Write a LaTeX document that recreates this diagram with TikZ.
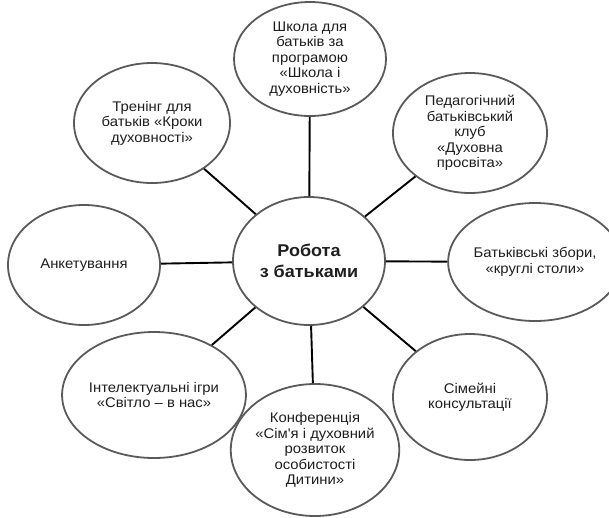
\documentclass[tikz,border=0pt]{standalone}
\usepackage{fontspec}
\setmainfont{Liberation Sans}[Ligatures=TeXOff, FakeStretch=1.06]
\usepackage{tikz}
\usetikzlibrary{shapes.geometric, positioning}
\usepackage{xcolor}
\definecolor{wkrim}{HTML}{5A5A5A}
\definecolor{wklink}{HTML}{000000}
\definecolor{wktext}{HTML}{1E1E1E}

\begin{document}
\begin{tikzpicture}[
    x=1pt, y=-1pt,
    every node/.style={align=center, text=wktext},
    wk-topic/.style={ellipse, draw=wkrim, line width=1.8pt, fill=white,
        minimum width=152pt, minimum height=122pt, inner sep=0pt,
        font=\fontsize{14}{15.5}\selectfont},
    wk-hub/.style={wk-topic, minimum width=152pt, minimum height=128pt,
        font=\fontsize{17}{21}\selectfont\bfseries},
    wk-link/.style={draw=wklink, line width=1.9pt},
]
    \useasboundingbox (0,0) rectangle (609,517);

    % ---- NODES: hub ----
    \node[wk-hub] (hub) at (309,261) {Робота\\з батьками};

    % ---- NODES: ring of topics (clockwise from top) ----
    \node[wk-topic, minimum height=114pt] (school) at (310,59)
        {Школа для\\батьків за\\програмою\\«Школа і\\духовність»};
    \node[wk-topic, minimum width=154pt, minimum height=120pt] (club) at (470,133)
        {Педагогічний\\батьківський\\клуб\\«Духовна\\просвіта»};
    \node[wk-topic, minimum width=146pt, minimum height=118pt] (meet) at (535,262)
        {Батьківські збори,\\«круглі столи»};
    \node[wk-topic, minimum width=154pt, minimum height=126pt] (consult) at (470,397)
        {Сімейні\\консультації};
    \node[wk-topic, minimum width=144pt, minimum height=132pt] (conf) at (315,450)
        {Конференція\\«Сім'я і духовний\\розвиток\\особистості\\Дитини»};
    \node[wk-topic, minimum width=158pt, minimum height=126pt] (games) at (154,395)
        {Інтелектуальні ігри\\«Світло – в нас»};
    \node[wk-topic, minimum height=120pt] (survey) at (84,265)
        {Анкетування};
    \node[wk-topic, minimum width=156pt, minimum height=120pt] (training) at (152,123)
        {Тренінг для\\батьків «Кроки\\духовності»};

    % ---- LINKS: hub to every topic ----
    \foreach \topic in {school, club, meet, consult, conf, games, survey, training}
        \draw[wk-link] (hub) -- (\topic);

\end{tikzpicture}
\end{document}
